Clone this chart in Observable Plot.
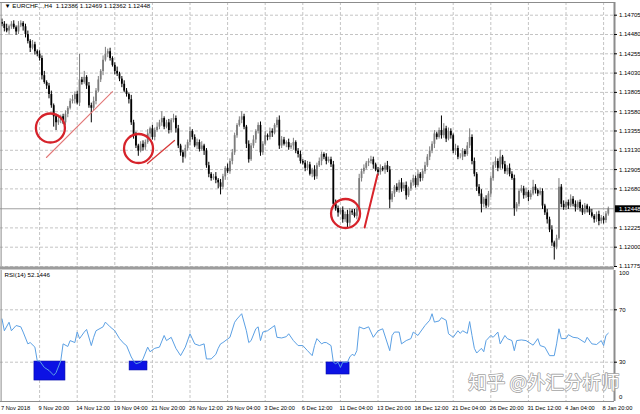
<!DOCTYPE html>
<html><head><meta charset="utf-8">
<script src="https://cdn.jsdelivr.net/npm/d3@7"></script>
<script src="https://cdn.jsdelivr.net/npm/@observablehq/plot@0.6"></script>
<style>
body{margin:0;background:#fff;}
#chart{width:640px;height:414px;position:relative;overflow:hidden;background:#fff;}
#chart svg{display:block;overflow:visible;}
</style></head><body><div id="chart"></div>
<script>
// ---- DATA (EURCHF H4, prices as pips above 1.1000) ----
const firstOpenPips = 462;
const closePips = [
460,455,452,457,460,456,451,458,461,457,
448,440,432,436,428,425,420,400,392,388,
378,365,352,345,348,352,345,355,362,370,
372,378,368,395,392,398,388,365,362,370,
382,395,405,418,425,428,420,412,405,402,
396,390,382,378,372,345,330,318,312,320,
316,322,332,338,328,336,340,345,350,340,
345,336,348,350,338,318,310,305,315,322,
335,328,318,322,314,318,312,295,285,280,
282,278,275,270,282,292,288,300,310,330,
342,348,352,340,320,302,318,325,335,342,
310,320,330,328,335,333,342,348,318,325,
320,322,316,318,322,312,308,300,298,292,
296,285,290,282,295,300,308,305,300,302,
296,250,245,240,243,232,238,228,242,240,
236,244,280,288,292,298,300,302,296,290,
287,292,290,295,290,255,262,270,266,275,
268,272,260,268,275,280,272,285,280,288,
295,305,312,320,332,328,336,330,338,326,
335,330,312,315,305,305,312,308,318,328,
300,285,270,262,250,256,248,262,280,295,
300,292,305,296,288,292,285,280,245,250,
265,268,260,264,258,262,270,266,262,265,
248,240,232,220,205,200,210,270,250,246,
252,248,256,250,246,252,245,240,248,244,
240,236,232,238,230,234,231,238.6,244.8];
const wickUp = [
4,3,5,2,3,4,2,5,3,2,
3,4,2,5,3,2,4,3,5,2,
3,4,2,3,5,2,3,4,2,3,
5,3,4,30,3,7,2,4,3,5,
3,4,2,5,8,3,4,2,3,5,
2,3,4,3,2,5,3,4,2,3,
4,3,5,2,4,3,5,3,8,2,
3,4,2,5,3,4,2,3,4,3,
5,2,3,4,3,5,2,3,4,2,
3,5,2,4,3,2,5,3,4,3,
2,4,6,3,2,4,3,5,2,3,
4,3,5,2,4,3,2,3,5,4,
3,2,4,3,5,2,3,4,2,3,
4,3,2,5,3,4,3,2,4,3,
3,4,5,3,2,4,3,5,3,2,
4,3,5,3,4,2,3,4,3,2,
3,4,2,3,5,4,3,2,4,3,
5,3,4,2,3,4,3,5,2,3,
4,3,5,3,4,2,3,17,6,3,
4,3,2,5,3,4,3,2,4,10,
3,4,2,3,5,2,4,3,3,4,
5,3,8,2,4,3,5,3,4,2,
3,4,3,5,2,4,8,3,2,4,
3,2,4,3,5,2,4,10,3,4,
2,3,5,3,4,2,3,4,3,2,
3,4,2,3,4,3,2,3,2];
const wickDown = [
3,4,2,5,3,2,4,3,2,5,
4,3,5,2,4,3,3,5,2,4,
5,3,12,9,3,4,2,3,4,2,
3,5,2,4,3,2,4,3,17,3,
4,2,3,5,2,4,3,2,4,3,
3,4,2,3,5,3,4,3,6,2,
4,3,2,5,3,4,2,3,4,3,
2,4,3,3,5,3,4,7,2,3,
4,3,2,4,3,2,5,3,4,3,
2,4,7,9,3,4,2,3,4,3,
3,2,4,3,5,4,2,3,4,3,
4,3,2,4,3,5,2,3,4,3,
2,4,3,2,5,3,4,3,2,4,
3,2,4,4,3,2,5,3,4,2,
3,4,3,5,2,4,3,6,4,3,
2,4,3,4,3,2,4,3,5,2,
4,3,2,5,3,10,3,4,2,3,
4,3,5,2,3,4,3,2,4,3,
3,2,4,3,5,3,2,4,3,4,
2,4,3,5,3,2,4,3,2,3,
4,3,5,3,10,4,3,2,4,3,
3,4,2,5,3,4,3,2,9,4,
3,2,4,3,5,3,2,4,3,2,
4,3,5,3,4,15,3,2,4,3,
3,4,2,3,5,3,4,3,2,4,
3,2,4,3,5,3,4,3,2.4];

const priceTicks = [1.14705,1.14480,1.14255,1.14030,1.13805,1.13580,1.13355,1.13130,1.12905,1.12680,1.12225,1.12000,1.11775];
const priceTickLabels = ["1.14705","1.14480","1.14255","1.14030","1.13805","1.13580","1.13355","1.13130","1.12905","1.12680","1.12225","1.12000","1.11775"];
const lastPrice = 1.12448;
const titleText = "▼ EURCHF...,H4  1.12386 1.12469 1.12362 1.12448";

const rsiBar = [0,1,3,4,6,8,9,11,12,14,15,16,18,20,22,23,25,26,28,29,31,32,33,35,36,38,39,40,43,44,46,48,50,52,53,55,56,57,59,60,62,63,65,67,69,70,72,74,76,78,80,82,84,86,87,89,91,92,93,94,97,99,100,102,104,105,106,108,109,110,111,113,116,117,119,121,122,124,126,128,130,132,133,134,136,137,138,140,141,142,143,144,145,147,148,149,150,151,152,154,156,158,160,162,165,166,167,169,170,172,174,175,177,178,180,182,183,184,186,187,189,190,192,194,195,196,198,199,200,201,202,204,205,206,208,209,211,212,214,215,217,218,219,221,223,226,228,229,231,233,235,236,237,238,240,241,243,245,248,249,251,253,255,256,257,258];
const rsiValue = [63,54,60.5,54,58,57,53,44,45,41.5,31,31,26,23.7,20,22,31,44,42,46.5,45,53,48,53,55,42.7,49,54,57,60.6,57,54,48,44,42.7,34,31,28.8,30,32.5,41.5,38,40.6,41.5,50.4,46.5,49,40.6,35,41.5,51.7,44,42.7,44,32.5,32.5,36,40.6,44,45,49,60.5,63,67,54,45,46.5,55.5,57,46.5,53,54,58,49,48.5,49.5,51.7,46.5,42.7,42.7,38.8,35,42.7,48,44,45,45,42.7,30,28.8,30,26,30,30,34,36,35,38.8,57,55.5,57,49,54,55.5,38.8,50.4,53,53,44,46.5,48,53,50.4,53,58,62,67,60.6,61.5,64,62,51.7,49,54,52,54,52,61,50.4,40.6,37,40.6,38,46.5,50.4,49,53,44,50.4,48,46.5,38.8,46.5,47,46.5,43,48,42.7,41.5,35,35,44,55.5,48,48,51,49,48.5,45,49,44,43.5,46.5,42.7,50.4,52.1];
const rsiLabel = "RSI(14) 52.1446";
const rsiTicks = [100,70,30,0];

const timeLabelBars = [0,16,32,48,64,80,96,112,128,144,160,176,192,208,224,240,256];
const timeLabels = ["7 Nov 2018","9 Nov 20:00","14 Nov 12:00","19 Nov 04:00","21 Nov 20:00","26 Nov 12:00","29 Nov 04:00","3 Dec 20:00","6 Dec 12:00","11 Dec 04:00","13 Dec 20:00","18 Dec 12:00","21 Dec 04:00","26 Dec 20:00","31 Dec 12:00","4 Jan 04:00","8 Jan 20:00"];

// annotations (bar index, price / RSI)
const circleBar = [20.6, 58.1, 146.2];
const circlePrice = [1.13390, 1.13151, 1.12393];
const trend1 = [{bar:18.9, price:1.13046},{bar:47.0, price:1.13815}];
const trend2 = [{bar:61.9, price:1.12976},{bar:73.4, price:1.13244}];
const trend3 = [{bar:154.3, price:1.12230},{bar:159.8, price:1.12848}];
const boxBar1 = [13.8, 54.3, 138.1];
const boxBar2 = [27.0, 61.9, 147.9];
const boxTop = [30.5, 30.5, 29.8];
const boxBottom = [16.0, 23.7, 20.6];
const watermark = "知乎 @外汇分析师";

// ---- BUILD ----
const bars = closePips.map((c, i) => {
  const o = i === 0 ? firstOpenPips : closePips[i - 1];
  const hi = Math.max(o, c) + wickUp[i], lo = Math.min(o, c) - wickDown[i];
  return {i, open: 1.1 + o / 1e4, close: 1.1 + c / 1e4, high: 1.1 + hi / 1e4, low: 1.1 + lo / 1e4, up: c >= o};
});
const rsi = rsiBar.map((b, k) => ({bar: b, value: rsiValue[k]}));
const circles = circleBar.map((b, k) => ({bar: b, price: circlePrice[k]}));
const boxes = boxBar1.map((b, k) => ({x1: b, x2: boxBar2[k], y1: boxBottom[k], y2: boxTop[k]}));

const W = 640, AX = 614, STEP = 2.35, X0 = 1.5;
const xDomain = [-X0 / STEP, (AX - X0) / STEP];
const FONT = "'Liberation Sans', Arial, sans-serif";
const gridColor = "#c4c4c4";
const mainH = 269, mainTop = 2, mainBottom = 3;
const yTop = 1.148531, yBot = 1.11775;
const pxPerPrice = (mainH - mainBottom - mainTop) / (yTop - yBot);
const sepPrice = yBot - 1.5 / pxPerPrice;
const bullC = "#7c7c7c", bearC = "#000";

const main = Plot.plot({
  width: W, height: mainH, marginLeft: 0, marginRight: W - AX, marginTop: mainTop, marginBottom: mainBottom,
  x: {domain: xDomain, axis: null},
  y: {domain: [yBot, yTop], axis: null},
  style: {fontFamily: FONT, fontSize: "6px", background: "#fff", color: "#000", overflow: "visible"},
  marks: [
    Plot.ruleY(priceTicks, {stroke: gridColor, strokeDasharray: "3,2"}),
    Plot.ruleX(timeLabelBars.slice(1), {stroke: gridColor, strokeDasharray: "3,2"}),
    Plot.ruleY([lastPrice], {stroke: "#a0a0a0"}),
    Plot.ruleX(bars, {x: "i", y1: "low", y2: "high", stroke: d => d.up ? bullC : bearC, strokeWidth: 1}),
    Plot.ruleX(bars, {x: "i", y1: "open", y2: "close", stroke: d => d.up ? bullC : bearC, strokeWidth: 1.8}),
    Plot.line(trend1, {x: "bar", y: "price", stroke: "#e27878", strokeWidth: 1.1}),
    Plot.line(trend2, {x: "bar", y: "price", stroke: "#d83a3a", strokeWidth: 1.3}),
    Plot.line(trend3, {x: "bar", y: "price", stroke: "#d8242b", strokeWidth: 2}),
    Plot.dot(circles, {x: "bar", y: "price", r: 14.5, stroke: "#d6232b", strokeWidth: 2.3, fill: "none"}),
    Plot.ruleY([yTop], {stroke: "#8c8c8c"}),
    Plot.ruleX([xDomain[0] + 0.6 / STEP], {stroke: "#8c8c8c"}),
    Plot.ruleY([sepPrice], {x1: xDomain[0], x2: xDomain[1], stroke: "#9c9c9c", strokeWidth: 3}),
    Plot.ruleX([xDomain[1]], {stroke: "#8c8c8c", strokeWidth: 2}),
    Plot.ruleY(priceTicks, {x1: xDomain[1], x2: xDomain[1] + 3 / STEP, stroke: "#000"}),
    Plot.text(priceTicks, {x: xDomain[1], y: d => d, text: (d, i) => priceTickLabels[i], textAnchor: "start", dx: 4.5, fontSize: 6, fill: "#000"}),
    Plot.ruleY([lastPrice], {x1: xDomain[1] + 1 / STEP, x2: xDomain[1] + 26 / STEP, stroke: "#000", strokeWidth: 7}),
    Plot.text([lastPrice], {x: xDomain[1], y: d => d, text: d => d.toFixed(5), textAnchor: "start", dx: 4.5, fontSize: 6, fill: "#fff"}),
    Plot.text([titleText], {frameAnchor: "top-left", dx: 4, dy: 4, textAnchor: "start", lineAnchor: "middle", fontSize: 6.2, fill: "#000"})
  ]
});

const rsiH = 145, rsiTop = 1, rsiBottom = 13;
const rsiPlot = Plot.plot({
  width: W, height: rsiH, marginLeft: 0, marginRight: W - AX, marginTop: rsiTop, marginBottom: rsiBottom,
  x: {domain: xDomain, axis: null},
  y: {domain: [0, 100], axis: null},
  style: {fontFamily: FONT, fontSize: "6px", background: "#fff", color: "#000", overflow: "visible"},
  marks: [
    Plot.ruleY([70, 30], {stroke: gridColor, strokeDasharray: "3,2"}),
    Plot.ruleX(timeLabelBars.slice(1), {stroke: gridColor, strokeDasharray: "3,2"}),
    Plot.rect(boxes, {x1: "x1", x2: "x2", y1: "y1", y2: "y2", fill: "#0c12e4", stroke: "#0008a8", strokeWidth: 0.6}),
    Plot.line(rsi, {x: "bar", y: "value", stroke: "#5ba0e4", strokeWidth: 1}),
    Plot.ruleY([0], {stroke: "#8c8c8c"}),
    Plot.ruleX([xDomain[0] + 0.6 / STEP], {stroke: "#8c8c8c"}),
    Plot.ruleX([xDomain[1]], {stroke: "#8c8c8c", strokeWidth: 2}),
    Plot.ruleY([70, 30], {x1: xDomain[1], x2: xDomain[1] + 3 / STEP, stroke: "#000"}),
    Plot.text([70, 30], {x: xDomain[1], y: d => d, text: d => String(d), textAnchor: "start", dx: 4.5, fontSize: 6, fill: "#000"}),
    Plot.text([100], {x: xDomain[1], y: d => d, text: d => String(d), textAnchor: "start", dx: 4.5, dy: 2.5, fontSize: 6, fill: "#000"}),
    Plot.text([0], {x: xDomain[1], y: d => d, text: d => String(d), textAnchor: "start", dx: 4.5, dy: -4, fontSize: 6, fill: "#000"}),
    Plot.text([rsiLabel], {frameAnchor: "top-left", dx: 4, dy: 4.5, textAnchor: "start", lineAnchor: "middle", fontSize: 6.2, fill: "#000"}),
    Plot.text(timeLabelBars, {x: d => d, text: (d, i) => timeLabels[i], frameAnchor: "bottom", dx: -1, dy: 6.5, textAnchor: "start", lineAnchor: "middle", fontSize: 5.7, fill: "#000"}),
    Plot.text([watermark], {frameAnchor: "bottom-right", dx: 5, dy: -18, textAnchor: "end", lineAnchor: "middle", fontSize: 18.5, fontFamily: "'Noto Sans CJK SC', sans-serif", fill: "#ffffff", stroke: "#a4a4a4", strokeWidth: 1.6, paintOrder: "stroke"})
  ]
});

const root = document.getElementById("chart");
root.appendChild(main);
root.appendChild(rsiPlot);
</script></body></html>
